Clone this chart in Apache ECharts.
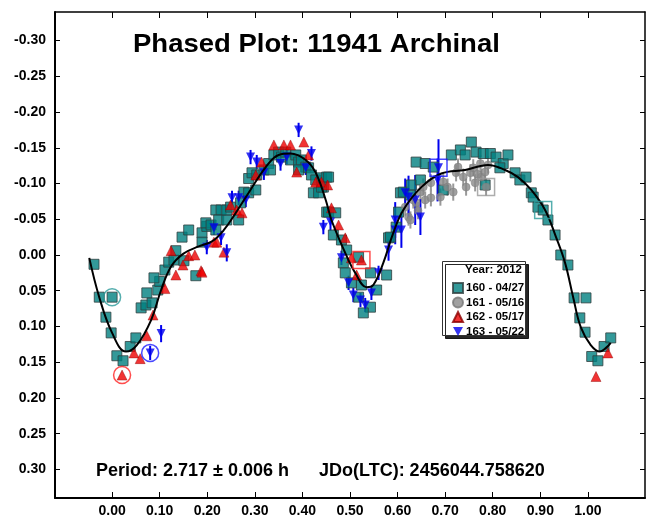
<!DOCTYPE html>
<html>
<head>
<meta charset="utf-8">
<script src="https://cdn.jsdelivr.net/npm/echarts@6/dist/echarts.min.js"></script>
<style>
html,body{margin:0;padding:0;background:#fff}
#main{width:648px;height:519px}
</style>
</head>
<body>
<div id="main"></div>
<script>
// tick values
var xTicks = [0, 0.1, 0.2, 0.3, 0.4, 0.5, 0.6, 0.7, 0.8, 0.9, 1.0];
var yTicks = [-0.30, -0.25, -0.20, -0.15, -0.10, -0.05, 0, 0.05, 0.10, 0.15, 0.20, 0.25, 0.30];

// fourier fit  [phase, mag]
var fitCurve = [
  [-0.048,0.004],[-0.027,0.059],[0.0,0.109],[0.029,0.135],[0.052,0.126],[0.082,0.091],
  [0.103,0.049],[0.124,0.016],[0.15,-0.002],[0.182,-0.012],[0.21,-0.019],[0.235,-0.035],[0.26,-0.059],
  [0.287,-0.087],[0.323,-0.123],[0.35,-0.14],[0.375,-0.142],[0.407,-0.133],[0.428,-0.115],
  [0.449,-0.077],[0.461,-0.049],[0.49,-0.003],[0.511,0.025],[0.535,0.045],[0.549,0.042],
  [0.57,0.011],[0.591,-0.031],[0.612,-0.063],[0.65,-0.095],[0.692,-0.114],[0.742,-0.119],
  [0.79,-0.126],[0.826,-0.119],[0.853,-0.109],[0.881,-0.091],[0.91,-0.063],[0.933,-0.025],
  [0.952,0.011],[0.969,0.059],[0.985,0.101],[1.006,0.126],[1.025,0.135],[1.038,0.13],[1.048,0.123]
];

// session 160 - 04/27
var s160 = [
  [-0.038,0.013],[-0.027,0.059],[-0.013,0.087],[-0.002,0.109],[0.01,0.141],[0.023,0.148],
  [0.038,0.128],[0.05,0.116],[0.061,0.074],[0.071,0.07],[0.084,0.067],[0.073,0.053],
  [0.096,0.049],[0.1,0.037],[0.088,0.032],[0.111,0.021],[0.119,0.01],[0.13,0.007],
  [0.134,-0.006],[0.147,-0.025],[0.161,-0.035],[0.151,0.008],[0.176,0.029],[0.189,-0.031],
  [0.189,-0.018],[0.199,-0.04],[0.197,-0.045],[0.208,-0.042],[0.218,-0.063],[0.229,-0.063],
  [0.224,-0.049],[0.218,-0.035],[0.241,-0.049],[0.241,-0.063],[0.249,-0.067],[0.266,-0.049],
  [0.27,-0.073],[0.277,-0.088],[0.287,-0.087],[0.302,-0.091],[0.287,-0.107],[0.294,-0.115],
  [0.304,-0.112],[0.319,-0.119],[0.329,-0.128],[0.333,-0.119],[0.34,-0.14],[0.35,-0.144],
  [0.356,-0.137],[0.365,-0.144],[0.375,-0.133],[0.386,-0.14],[0.392,-0.13],[0.398,-0.133],
  [0.407,-0.123],[0.392,-0.119],[0.413,-0.122],[0.419,-0.112],[0.428,-0.105],[0.44,-0.108],
  [0.451,-0.109],[0.423,-0.087],[0.434,-0.087],[0.444,-0.095],[0.451,-0.06],[0.455,-0.109],
  [0.44,-0.095],[0.455,-0.06],[0.47,-0.059],[0.465,-0.028],[0.482,-0.021],[0.493,-0.007],
  [0.486,0.011],[0.49,0.025],[0.518,0.003],[0.503,0.039],[0.524,0.042],[0.518,0.059],
  [0.543,0.025],[0.556,0.049],[0.543,0.073],[0.528,0.081],[0.577,0.028],[0.581,-0.024],
  [0.602,-0.06],[0.606,-0.087],[0.585,-0.025],[0.597,-0.039],[0.612,-0.088],[0.627,-0.084],
  [0.629,-0.098],[0.648,-0.105],[0.639,-0.13],[0.658,-0.128],[0.675,-0.123],[0.696,-0.091],
  [0.713,-0.14],[0.732,-0.147],[0.742,-0.14],[0.755,-0.158],[0.765,-0.144],[0.78,-0.142],
  [0.795,-0.142],[0.807,-0.137],[0.822,-0.128],[0.815,-0.122],[0.784,-0.098],[0.832,-0.14],
  [0.847,-0.115],[0.857,-0.105],[0.87,-0.109],[0.881,-0.087],[0.885,-0.081],[0.895,-0.067],
  [0.916,-0.049],[0.931,-0.028],[0.943,0.0],[0.958,0.014],[0.971,0.06],
  [0.996,0.06],[0.983,0.088],[0.994,0.108],[1.008,0.142],[1.021,0.148],[1.034,0.128],[1.048,0.116]
];

// session 161 - 05/16  [phase, mag, err]
var s161 = [
  [0.616,-0.067,0.012],[0.623,-0.053,0.012],[0.627,-0.049,0.012],[0.633,-0.077,0.012],
  [0.639,-0.073,0.012],[0.648,-0.088,0.012],[0.654,-0.095,0.012],[0.658,-0.077,0.012],
  [0.67,-0.08,0.012],[0.67,-0.101,0.012],[0.69,-0.081,0.012],[0.696,-0.102,0.012],
  [0.717,-0.088,0.012],[0.723,-0.115,0.012],[0.727,-0.123,0.012],[0.738,-0.109,0.012],
  [0.744,-0.095,0.012],[0.753,-0.115,0.012],[0.759,-0.122,0.012],[0.763,-0.101,0.012],
  [0.774,-0.128,0.012],[0.776,-0.109,0.012],[0.784,-0.116,0.012],
  [0.79,-0.126,0.012],[0.643,-0.062,0.012],[0.705,-0.095,0.012],[0.768,-0.113,0.012]
];

// session 162 - 05/17
var s162 = [
  [0.046,0.137],[0.059,0.145],[0.073,0.113],[0.086,0.084],[0.111,0.047],[0.124,-0.006],
  [0.134,0.028],[0.149,0.014],[0.161,0.001],[0.174,0.0],[0.187,0.022],[0.189,0.024],
  [0.214,-0.018],[0.22,-0.018],[0.235,-0.004],[0.249,-0.07],[0.262,-0.063],[0.273,-0.059],
  [0.302,-0.112],[0.314,-0.13],[0.34,-0.154],[0.361,-0.154],[0.375,-0.154],[0.403,-0.158],
  [0.388,-0.116],[0.413,-0.14],[0.428,-0.102],[0.44,-0.102],[0.453,-0.098],[0.461,-0.066],
  [0.476,-0.042],[0.49,-0.024],[0.503,0.004],[0.514,0.028],[1.042,0.137],[1.017,0.17]
];

// session 163 - 05/22  [phase, mag, err]
var s163 = [
  [0.103,0.11,0.012],[0.199,-0.011,0.01],[0.214,-0.038,0.01],[0.229,-0.024,0.01],
  [0.241,-0.003,0.012],[0.252,-0.08,0.01],[0.266,-0.08,0.01],[0.281,-0.077,0.01],
  [0.291,-0.137,0.01],[0.304,-0.13,0.01],[0.319,-0.115,0.01],[0.354,-0.128,0.01],
  [0.367,-0.137,0.01],[0.392,-0.175,0.01],[0.407,-0.122,0.01],[0.419,-0.142,0.01],
  [0.444,-0.039,0.01],[0.459,-0.046,0.012],[0.482,0.004,0.01],[0.497,0.039,0.01],
  [0.507,0.056,0.01],[0.522,0.063,0.01],[0.532,0.07,0.01],[0.545,0.053,0.01],
  [0.56,0.025,0.01],[0.581,-0.007,0.015],[0.595,-0.035,0.02],[0.616,-0.087,0.02],
  [0.595,-0.049,0.025],[0.608,-0.035,0.025],[0.623,-0.081,0.03],[0.637,-0.077,0.035],
  [0.648,-0.053,0.025],[0.684,-0.105,0.03]
];

// zero-point reference points per session (drawn with their own ring/box)
var circled160 = [[0.0,0.059]];
var boxed160 = [[0.906,-0.063]];
var boxed161 = [[0.786,-0.095,0.012]];
var circled162 = [[0.021,0.168]];
var boxed162 = [[0.524,0.007]];
var circled163 = [[0.08,0.137,0.01]];
var boxed163 = [[0.686,-0.122,0.04]];

var TEAL = '#008080', GRAY = '#8a8a8a', RED = '#ee0000', BLUE = '#0000ee';
var FONT = 'Liberation Sans, Arial, sans-serif';
var labelFont = {color:'#000', fontWeight:'bold', fontSize:14, fontFamily:FONT};
var downTri = 'path://M0,0 L10,0 L5,9 Z';

function errBars(data, color){
  return {
    type:'custom', silent:true, z:2,
    data: data,
    renderItem: function(params, api){
      var x = api.value(0), y = api.value(1), e = api.value(2);
      var p1 = api.coord([x, y - e]), p2 = api.coord([x, y + e]);
      return {type:'line', shape:{x1:p1[0], y1:p1[1], x2:p2[0], y2:p2[1]},
              style:{stroke:color, lineWidth:2}};
    }
  };
}
function refMark(data, symbol, color){
  return {
    type:'scatter', data:data, symbol:symbol, symbolSize:17, silent:true, z:6,
    itemStyle:{color:'rgba(0,0,0,0)', borderColor:color, borderWidth:1.5}
  };
}

var all161 = s161.concat(boxed161);
var all163 = s163.concat(circled163, boxed163);

var chart = echarts.init(document.getElementById('main'));
var option = {
  animation:false,
  grid:{left:55, right:3, top:12, bottom:21, show:false},
  xAxis:[
    {type:'value', min:-0.12, max:1.12, position:'bottom',
     axisLine:{show:true, onZero:false, lineStyle:{color:'#000', width:2}},
     axisTick:{inside:true, length:6, customValues:xTicks, lineStyle:{color:'#000'}},
     axisLabel:Object.assign({customValues:xTicks, margin:6, formatter:function(v){return v.toFixed(2);}}, labelFont),
     splitLine:{show:false}},
    {type:'value', min:-0.12, max:1.12, position:'top',
     axisLine:{show:true, onZero:false, lineStyle:{color:'#000', width:1.5}},
     axisTick:{inside:true, length:6, customValues:xTicks, lineStyle:{color:'#000'}},
     axisLabel:{show:false}, splitLine:{show:false}}
  ],
  yAxis:[
    {type:'value', inverse:true, min:-0.34, max:0.34, position:'left',
     axisLine:{show:true, onZero:false, lineStyle:{color:'#000', width:2}},
     axisTick:{inside:true, length:5, customValues:yTicks, lineStyle:{color:'#000'}},
     axisLabel:Object.assign({customValues:yTicks, margin:9, formatter:function(v){return v.toFixed(2);}}, labelFont),
     splitLine:{show:false}},
    {type:'value', inverse:true, min:-0.34, max:0.34, position:'right',
     axisLine:{show:true, onZero:false, lineStyle:{color:'#000', width:1.5}},
     axisTick:{inside:true, length:5, customValues:yTicks, lineStyle:{color:'#000'}},
     axisLabel:{show:false}, splitLine:{show:false}}
  ],
  legend:{
    orient:'vertical', left:447, top:277, itemWidth:10, itemHeight:10, itemGap:2.5,
    data:[
      {name:'160 - 04/27'},
      {name:'161 - 05/16'},
      {name:'162 - 05/17'},
      {name:'163 - 05/22', icon:downTri}
    ],
    textStyle:{color:'#000', fontWeight:'bold', fontSize:11.5, lineHeight:12, fontFamily:FONT, padding:[0,0,0,-2]},
    selectedMode:false, z:20
  },
  graphic:[
    {type:'text', left:133, top:33, z:21, scaleX:1.1,
     style:{text:'Phased Plot: 11941 Archinal', fill:'#000', font:'bold 25px ' + FONT}},
    {type:'rect', left:442, top:261, z:15,
     shape:{width:83, height:74},
     style:{fill:'#fff', stroke:'#333', lineWidth:1, shadowColor:'rgba(0,0,0,0.85)', shadowOffsetX:3, shadowOffsetY:3}},
    {type:'text', z:21,
     style:{x:522, y:270, text:'Year: 2012', fill:'#000', align:'right', verticalAlign:'middle',
            font:'bold 11.5px ' + FONT}},
    {type:'text', left:96, top:462, z:21,
     style:{text:'Period: 2.717 \u00b1 0.006 h      JDo(LTC): 2456044.758620', fill:'#000',
            font:'bold 18px ' + FONT}}
  ],
  series:[
    errBars(all161, '#999'),
    errBars(all163, BLUE),
    {name:'160 - 04/27', type:'scatter', data:s160.concat(circled160, boxed160), symbol:'rect', symbolSize:10, z:3,
     itemStyle:{color:TEAL, borderColor:'#2f3f3f', borderWidth:1}},
    {name:'161 - 05/16', type:'scatter', data:all161, symbol:'circle', symbolSize:8, z:4,
     itemStyle:{color:GRAY, borderColor:'#777', borderWidth:0.5}},
    {name:'162 - 05/17', type:'scatter', data:s162.concat(circled162, boxed162), symbol:'triangle', symbolSize:10, z:4,
     itemStyle:{color:RED, borderColor:'#8a0000', borderWidth:0.5}},
    {name:'163 - 05/22', type:'scatter', data:all163, symbol:'triangle', symbolRotate:180, symbolSize:9, z:4,
     itemStyle:{color:BLUE}},
    {name:'fit', type:'line', data:fitCurve, smooth:0.4, showSymbol:false, z:5,
     lineStyle:{color:'#000', width:2}},
    refMark(circled160, 'circle', '#2a9a9a'),
    refMark(boxed160, 'rect', '#2a9a9a'),
    refMark(boxed161, 'rect', '#999'),
    refMark(circled162, 'circle', '#ff2020'),
    refMark(boxed162, 'rect', '#ff2020'),
    refMark(circled163, 'circle', '#1a1aff'),
    refMark(boxed163, 'rect', '#1a1aff')
  ]
};
chart.setOption(option);
</script>
</body>
</html>
